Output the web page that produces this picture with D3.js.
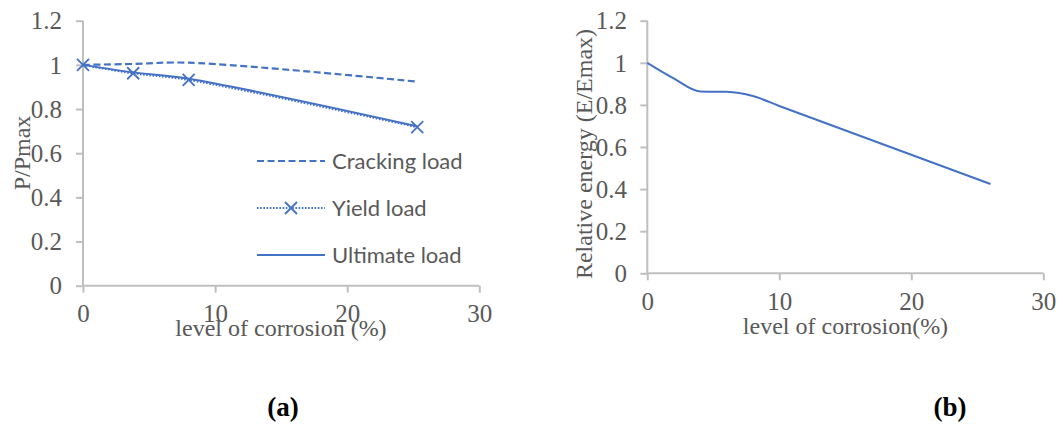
<!DOCTYPE html>
<html>
<head>
<meta charset="utf-8">
<script src="https://cdn.jsdelivr.net/npm/d3@7"></script>
<style>
  html, body { margin: 0; padding: 0; background: #fff; }
  svg { display: block; }
</style>
</head>
<body>
<svg id="chart" width="1063" height="424"></svg>
<script>
// ---- data ----
const xTicks = [0, 10, 20, 30];
const yTicks = [0, 0.2, 0.4, 0.6, 0.8, 1, 1.2];
const yTickLabels = ["0", "0.2", "0.4", "0.6", "0.8", "1", "1.2"];

// Panel (a)
const corrosionA = [0, 3.8, 8, 25.3];
const crackingLoad = [1.0, 1.004, 1.01, 0.924];
const yieldLoad = [1.0, 0.962, 0.932, 0.718];
const ultimateLoad = [1.0, 0.966, 0.937, 0.722];
const seriesNamesA = ["Cracking load", "Yield load", "Ultimate load"];

// Panel (b)
const corrosionB = [0, 2, 4, 6, 8, 10, 26];
const relativeEnergy = [1.0, 0.926, 0.864, 0.862, 0.842, 0.795, 0.424];

const panelLabels = ["(a)", "(b)"];

// ---- drawing ----
const svg = d3.select("#chart");
svg.append("rect").attr("width", 1063).attr("height", 424).attr("fill", "#fff");

const BLUE = "#4472C4";
const AXIS = "#BFBFBF";
const TXT = "#595959";
const SERIF = "'Liberation Serif', 'Times New Roman', serif";
const SANS = "Lato, Carlito, 'Open Sans', sans-serif";

function drawAxes(g, x, y, opts) {
  const yAxis = d3.axisLeft(y).tickValues(yTicks).tickSize(7)
    .tickFormat((d, i) => yTickLabels[i]);
  const ya = g.append("g").attr("transform", `translate(${x(0)},0)`).call(yAxis);
  ya.select(".domain").remove();
  ya.selectAll(".tick line").attr("stroke", AXIS).attr("stroke-width", 2);
  ya.selectAll(".tick text").attr("fill", TXT).attr("font-family", SERIF)
    .attr("font-size", 25).attr("x", -(x(0) - opts.yLabelRight)).attr("dy", "0.33em");
  g.append("line").attr("x1", x(0)).attr("x2", x(0)).attr("y1", y(1.2)).attr("y2", y(0))
    .attr("stroke", AXIS).attr("stroke-width", 2);

  const xAxis = d3.axisBottom(x).tickValues(xTicks).tickSize(7).tickFormat(d3.format("d"));
  const xa = g.append("g").attr("transform", `translate(0,${y(0)})`).call(xAxis);
  xa.select(".domain").remove();
  xa.selectAll(".tick line").attr("stroke", AXIS).attr("stroke-width", 2);
  xa.selectAll(".tick text").attr("fill", TXT).attr("font-family", SERIF)
    .attr("font-size", 25).attr("y", opts.xLabelDy).attr("dy", 0);
  g.append("line").attr("x1", x(0)).attr("x2", x(30)).attr("y1", y(0)).attr("y2", y(0))
    .attr("stroke", AXIS).attr("stroke-width", 2);

  g.append("text").attr("x", opts.xTitleX).attr("y", opts.xTitleY)
    .attr("text-anchor", "middle").attr("font-family", SERIF).attr("font-size", 24)
    .attr("fill", TXT).text(opts.xTitle);
  g.append("text").attr("transform", `translate(${opts.yTitleX},${opts.yTitleY}) rotate(-90)`)
    .attr("text-anchor", "middle").attr("font-family", SERIF).attr("font-size", 24)
    .attr("fill", TXT).text(opts.yTitle);
}

function xMarker(g, cx, cy, s) {
  g.append("path")
    .attr("d", `M${cx - s},${cy - s}L${cx + s},${cy + s}M${cx - s},${cy + s}L${cx + s},${cy - s}`)
    .attr("stroke", BLUE).attr("stroke-width", 1.8).attr("fill", "none");
}

// ---------- Panel (a) ----------
{
  const g = svg.append("g");
  const x = d3.scaleLinear().domain([0, 30]).range([83, 479.3]);
  const y = d3.scaleLinear().domain([0, 1.2]).range([285.7, 20.7]);
  drawAxes(g, x, y, {
    yLabelRight: 62, xLabelDy: 36,
    xTitle: "level of corrosion (%)", xTitleX: 281, xTitleY: 336,
    yTitle: "P/Pmax", yTitleX: 30, yTitleY: 153
  });

  const line = d3.line().x(d => x(d[0])).y(d => y(d[1])).curve(d3.curveCatmullRom.alpha(0.5));
  const crack = corrosionA.map((c, i) => [c, crackingLoad[i]]);
  const yld = corrosionA.map((c, i) => [c, yieldLoad[i]]);
  const ult = corrosionA.map((c, i) => [c, ultimateLoad[i]]);

  g.append("path").datum(crack).attr("d", line).attr("fill", "none")
    .attr("stroke", BLUE).attr("stroke-width", 2.2).attr("stroke-dasharray", "7,3.5");
  g.append("path").datum(yld).attr("d", line).attr("fill", "none")
    .attr("stroke", BLUE).attr("stroke-width", 2.2).attr("stroke-dasharray", "1.6,1.6");
  g.append("path").datum(ult).attr("d", line).attr("fill", "none")
    .attr("stroke", BLUE).attr("stroke-width", 2);
  yld.forEach(d => xMarker(g, x(d[0]), y(d[1]), 6));

  const lg = g.append("g");
  const ly = [161, 208, 255];
  const styles = [
    { dash: "7,3.5", w: 2.2 },
    { dash: "1.6,1.6", w: 2.2 },
    { dash: null, w: 2 }
  ];
  seriesNamesA.forEach((name, i) => {
    const l = lg.append("line").attr("x1", 257).attr("x2", 325).attr("y1", ly[i]).attr("y2", ly[i])
      .attr("stroke", BLUE).attr("stroke-width", styles[i].w);
    if (styles[i].dash) l.attr("stroke-dasharray", styles[i].dash);
    if (i === 1) xMarker(lg, 291, ly[i], 6);
    lg.append("text").attr("x", 332).attr("y", ly[i]).attr("dy", "0.35em")
      .attr("font-family", SANS).attr("font-size", 22).attr("fill", TXT).text(name);
  });
}

// ---------- Panel (b) ----------
{
  const g = svg.append("g");
  const x = d3.scaleLinear().domain([0, 30]).range([647.3, 1043.3]);
  const y = d3.scaleLinear().domain([0, 1.2]).range([273.3, 20.7]);
  drawAxes(g, x, y, {
    yLabelRight: 627, xLabelDy: 37,
    xTitle: "level of corrosion(%)", xTitleX: 845.5, xTitleY: 334,
    yTitle: "Relative energy (E/Emax)", yTitleX: 592, yTitleY: 154
  });
  const line = d3.line().x(d => x(d[0])).y(d => y(d[1])).curve(d3.curveMonotoneX);
  const pts = corrosionB.map((c, i) => [c, relativeEnergy[i]]);
  g.append("path").datum(pts).attr("d", line).attr("fill", "none")
    .attr("stroke", BLUE).attr("stroke-width", 2);
}

svg.append("text").attr("x", 283).attr("y", 416).attr("text-anchor", "middle")
  .attr("font-family", SERIF).attr("font-weight", "bold").attr("font-size", 27)
  .attr("fill", "#000").text(panelLabels[0]);
svg.append("text").attr("x", 950).attr("y", 416).attr("text-anchor", "middle")
  .attr("font-family", SERIF).attr("font-weight", "bold").attr("font-size", 27)
  .attr("fill", "#000").text(panelLabels[1]);
</script>
</body>
</html>
